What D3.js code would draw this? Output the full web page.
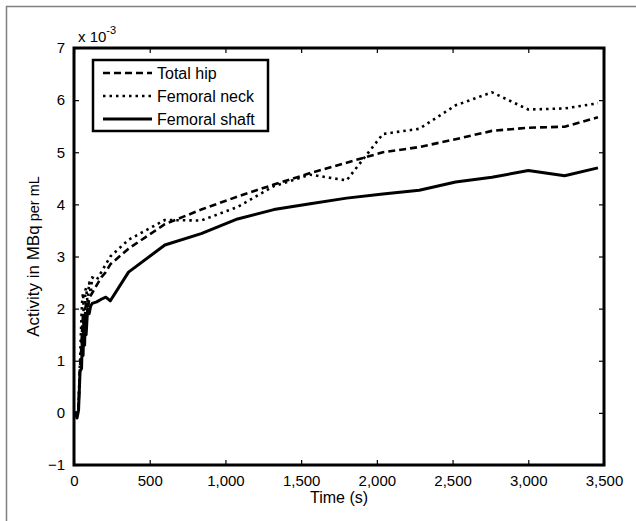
<!DOCTYPE html>
<html>
<head>
<meta charset="utf-8">
<script src="https://cdn.jsdelivr.net/npm/d3@7"></script>
<style>
  body { margin: 0; background: #fff; }
  svg text { font-family: "Liberation Sans", Arial, sans-serif; fill: #000; }
</style>
</head>
<body>
<script>
// time points (s)
var times = [0, 10, 20, 30, 40, 50, 55, 60, 65, 70, 75, 80, 90, 100, 110, 120, 150, 180, 210, 240,
    360, 600, 840, 1080, 1320, 1560, 1800, 2040, 2280, 2520, 2760, 3000, 3240, 3460];

// activity (x 10^-3 MBq per mL)
var totalHip = [0, 0.0, -0.05, 0.1, 0.9, 1.3, 1.7, 1.9, 1.5, 1.6, 2.0, 2.1, 1.9, 2.2, 2.25, 2.3, 2.45, 2.6, 2.7, 2.85,
    3.15, 3.62, 3.9, 4.15, 4.38, 4.6, 4.8, 5.0, 5.1, 5.25, 5.41, 5.47, 5.49, 5.67];
var femoralNeck = [0, 0.0, -0.05, 0.15, 1.0, 1.9, 2.2, 2.3, 1.8, 1.9, 2.35, 2.4, 2.1, 2.5, 2.3, 2.6, 2.55, 2.7, 2.85, 3.0,
    3.32, 3.7, 3.69, 3.95, 4.35, 4.57, 4.46, 5.35, 5.45, 5.9, 6.15, 5.82, 5.84, 5.94];
var femoralShaft = [0, 0.0, -0.1, 0.05, 0.8, 0.85, 1.5, 1.1, 1.7, 1.3, 1.9, 1.5, 2.0, 1.9, 2.05, 2.1, 2.13, 2.18, 2.22, 2.15,
    2.7, 3.22, 3.44, 3.72, 3.9, 4.01, 4.12, 4.2, 4.27, 4.43, 4.52, 4.65, 4.55, 4.70];

var seriesNames = ["Total hip", "Femoral neck", "Femoral shaft"];
var seriesData = [totalHip, femoralNeck, femoralShaft];
var dashes = ["7,4", "2.5,4", null];

var xTicks = [0, 500, 1000, 1500, 2000, 2500, 3000, 3500];
var yTicks = [-1, 0, 1, 2, 3, 4, 5, 6, 7];

var width = 636, height = 521;
var padL = 74, padR = 604, padT = 48, padB = 465;

var svg = d3.select("body").append("svg")
    .attr("width", width)
    .attr("height", height);

// outer frame
svg.append("rect")
    .attr("x", 6.5).attr("y", 6.5)
    .attr("width", 700).attr("height", 600)
    .attr("fill", "none")
    .attr("stroke", "#808080")
    .attr("stroke-width", 1.5);

var x = d3.scaleLinear().domain([0, 3500]).range([padL, padR]);
var y = d3.scaleLinear().domain([-1, 7]).range([padB, padT]);

// curves
var line = d3.line()
    .x(function(d, i) { return x(times[i]); })
    .y(function(d) { return y(d); });

seriesData.forEach(function(s, k) {
    svg.append("path")
        .datum(s)
        .attr("d", line)
        .attr("fill", "none")
        .attr("stroke", "#000")
        .attr("stroke-width", k == 2 ? 3 : 2.6)
        .attr("stroke-dasharray", dashes[k])
        .attr("stroke-linejoin", "round");
});

// axes, MATLAB style: ticks inside, on all four sides
var tickLen = 5;
svg.append("g")
    .attr("transform", "translate(0," + padB + ")")
    .call(d3.axisBottom(x).tickValues(xTicks).tickSize(-tickLen).tickPadding(10).tickFormat(d3.format(",")));
svg.append("g")
    .attr("transform", "translate(0," + padT + ")")
    .call(d3.axisTop(x).tickValues(xTicks).tickSize(-tickLen).tickFormat(""));
svg.append("g")
    .attr("transform", "translate(" + padL + ",0)")
    .call(d3.axisLeft(y).tickValues(yTicks).tickSize(-tickLen).tickPadding(9));
svg.append("g")
    .attr("transform", "translate(" + padR + ",0)")
    .call(d3.axisRight(y).tickValues(yTicks).tickSize(-tickLen).tickFormat(""));

svg.selectAll(".domain").remove();
svg.selectAll(".tick line").attr("stroke", "#000").attr("stroke-width", 1.2);
svg.selectAll(".tick text").style("font-size", "15px").attr("fill", "#000");

// box
svg.append("rect")
    .attr("x", padL).attr("y", padT)
    .attr("width", padR - padL).attr("height", padB - padT)
    .attr("fill", "none")
    .attr("stroke", "#000")
    .attr("stroke-width", 3);

// exponent
var expo = svg.append("text")
    .attr("x", 78).attr("y", 42)
    .style("font-size", "15px");
expo.append("tspan").text("x 10");
expo.append("tspan").attr("dy", -8).style("font-size", "11px").text("-3");

// axis labels
svg.append("text")
    .attr("x", (padL + padR) / 2).attr("y", 503)
    .attr("text-anchor", "middle")
    .style("font-size", "16px")
    .text("Time (s)");

var yl = svg.append("text")
    .attr("transform", "translate(39," + ((padT + padB) / 2) + ") rotate(-90)")
    .attr("text-anchor", "middle")
    .style("font-size", "17px");
yl.append("tspan").text("Activity in MBq");
yl.append("tspan").style("font-size", "14.5px").text(" per mL");

// legend
var lg = svg.append("g");
lg.append("rect")
    .attr("x", 93).attr("y", 60)
    .attr("width", 175).attr("height", 71)
    .attr("fill", "#fff")
    .attr("stroke", "#000")
    .attr("stroke-width", 2.5);

seriesNames.forEach(function(name, k) {
    var ly = 73 + k * 23;
    lg.append("line")
        .attr("x1", 103).attr("x2", 152)
        .attr("y1", ly).attr("y2", ly)
        .attr("stroke", "#000")
        .attr("stroke-width", k == 2 ? 3 : 2.6)
        .attr("stroke-dasharray", dashes[k]);
    lg.append("text")
        .attr("x", 157).attr("y", ly + 5.5)
        .style("font-size", "16px")
        .text(name);
});
</script>
</body>
</html>
